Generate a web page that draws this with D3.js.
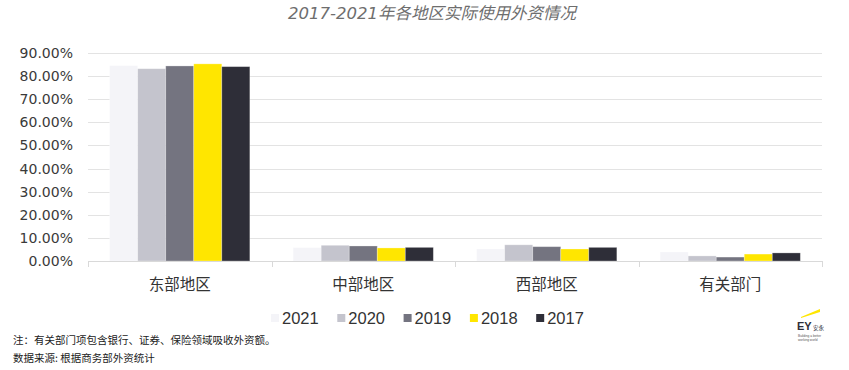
<!DOCTYPE html>
<html>
<head>
<meta charset="utf-8">
<script src="https://cdn.jsdelivr.net/npm/d3@7"></script>
<style>
  html, body { margin: 0; padding: 0; background: #fff; }
  svg { display: block; }
</style>
</head>
<body>
<svg id="chart" width="849" height="370"></svg>
<script>
const categories = ["东部地区", "中部地区", "西部地区", "有关部门"];
const years = ["2021", "2020", "2019", "2018", "2017"];
const values2021 = [84.5, 5.8, 5.2, 3.9];
const values2020 = [83.2, 6.8, 7.0, 2.2];
const values2019 = [84.4, 6.5, 6.2, 1.7];
const values2018 = [85.3, 5.65, 5.2, 3.0];
const values2017 = [84.1, 5.9, 5.9, 3.5];
const yTicks = [0, 10, 20, 30, 40, 50, 60, 70, 80, 90];
const colors = ["#f4f4f8", "#c4c4cd", "#747480", "#ffe600", "#2e2e38"];
const title = "2017-2021年各地区实际使用外资情况";
const note1 = "注：有关部门项包含银行、证券、保险领域吸收外资额。";
const note2 = "数据来源: 根据商务部外资统计";

const seriesValues = [values2021, values2020, values2019, values2018, values2017];

const svg = d3.select("#chart");
const mLeft = 88, mRight = 822, mTop = 53, mBottom = 261;

const x0 = d3.scaleBand().domain(categories).range([mLeft, mRight]).padding(0);
const pad = x0.bandwidth() * 0.118;
const x1 = d3.scaleBand().domain(years).range([pad, x0.bandwidth() - pad]).padding(0);
const y = d3.scaleLinear().domain([0, 90]).range([mBottom, mTop]);

// title
svg.append("text")
  .attr("x", 432).attr("y", 19)
  .attr("text-anchor", "middle")
  .attr("font-family", "DejaVu Sans, Noto Sans CJK SC, sans-serif")
  .attr("font-style", "italic")
  .attr("font-size", 16.5)
  .attr("fill", "#6e6e6e")
  .text(title);

// gridlines
svg.append("g")
  .selectAll("line")
  .data(yTicks.filter(d => d > 0))
  .join("line")
  .attr("x1", mLeft).attr("x2", mRight)
  .attr("y1", d => Math.round(y(d)) + 0.5).attr("y2", d => Math.round(y(d)) + 0.5)
  .attr("stroke", "#e3e3e3").attr("stroke-width", 1);

// y labels
const yAxis = d3.axisLeft(y).tickValues(yTicks).tickSize(0).tickPadding(15)
  .tickFormat(d => d.toFixed(2) + "%");
const gy = svg.append("g").attr("transform", `translate(${mLeft},0)`).call(yAxis);
gy.select(".domain").remove();
gy.selectAll("text")
  .attr("font-family", "DejaVu Sans, Verdana, sans-serif")
  .attr("font-size", 14)
  .attr("fill", "#3a3a3a");

// bars
const groups = svg.append("g")
  .selectAll("g")
  .data(categories)
  .join("g")
  .attr("transform", d => `translate(${x0(d)},0)`);

groups.selectAll("rect")
  .data((d, i) => years.map((yr, j) => ({ yr, j, v: seriesValues[j][i] })))
  .join("rect")
  .attr("x", d => x1(d.yr))
  .attr("width", x1.bandwidth())
  .attr("y", d => y(d.v))
  .attr("height", d => mBottom - y(d.v))
  .attr("fill", d => colors[d.j])
  .attr("stroke", "rgba(255,255,255,0.35)")
  .attr("stroke-width", 0.8);

// x axis
const xAxis = d3.axisBottom(x0).tickSize(0).tickPadding(18);
const gx = svg.append("g").attr("transform", `translate(0,${mBottom})`).call(xAxis);
gx.select(".domain").attr("stroke", "#d9d9d9").attr("d", `M${mLeft},0.5H${mRight}`);
gx.selectAll("text")
  .attr("font-family", "Noto Sans CJK SC, sans-serif")
  .attr("font-size", 15.5)
  .attr("fill", "#333");
// boundary ticks
const bounds = categories.map(c => x0(c)).concat([mRight]);
svg.append("g")
  .selectAll("line")
  .data(bounds)
  .join("line")
  .attr("x1", d => Math.round(d) + 0.5).attr("x2", d => Math.round(d) + 0.5)
  .attr("y1", mBottom).attr("y2", mBottom + 6)
  .attr("stroke", "#d9d9d9");

// legend
const legend = svg.append("g");
years.forEach((yr, j) => {
  const lx = 271 + j * 66.3;
  legend.append("rect")
    .attr("x", lx).attr("y", 314)
    .attr("width", 8).attr("height", 8)
    .attr("fill", colors[j]);
  legend.append("text")
    .attr("x", lx + 11).attr("y", 323.5)
    .attr("font-family", "Liberation Sans, Arial, sans-serif")
    .attr("font-size", 16.5)
    .attr("fill", "#333")
    .text(yr);
});

// notes
svg.append("text")
  .attr("x", 13).attr("y", 344)
  .attr("font-family", "Noto Sans CJK SC, sans-serif")
  .attr("font-size", 10.5)
  .attr("fill", "#222")
  .text(note1);
svg.append("text")
  .attr("x", 13).attr("y", 362)
  .attr("font-family", "Noto Sans CJK SC, sans-serif")
  .attr("font-size", 10.5)
  .attr("fill", "#222")
  .text(note2);

// EY logo
const logo = svg.append("g");
logo.append("polygon")
  .attr("points", "801,317 820,309 820,312 801,318")
  .attr("fill", "#ffe600");
logo.append("text")
  .attr("x", 797).attr("y", 330)
  .attr("font-family", "Liberation Sans, Arial, sans-serif")
  .attr("font-weight", "bold")
  .attr("font-size", 11)
  .attr("fill", "#2e2e38")
  .text("EY");
logo.append("text")
  .attr("x", 813).attr("y", 329.5)
  .attr("font-family", "Noto Sans CJK SC, sans-serif")
  .attr("font-size", 5.5)
  .attr("fill", "#2e2e38")
  .text("安永");
logo.append("text")
  .attr("x", 798).attr("y", 336.5)
  .attr("font-family", "Liberation Sans, Arial, sans-serif")
  .attr("font-size", 3.2)
  .attr("fill", "#555")
  .text("Building a better");
logo.append("text")
  .attr("x", 798).attr("y", 340.5)
  .attr("font-family", "Liberation Sans, Arial, sans-serif")
  .attr("font-size", 3.2)
  .attr("fill", "#555")
  .text("working world");
</script>
</body>
</html>
